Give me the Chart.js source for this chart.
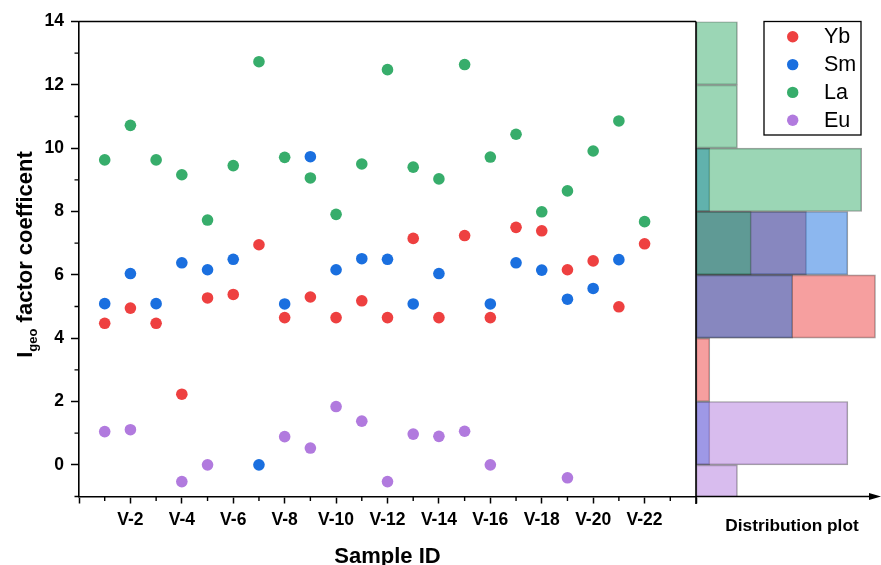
<!DOCTYPE html>
<html>
<head>
<meta charset="utf-8">
<script src="https://cdn.jsdelivr.net/npm/chart.js@4/dist/chart.umd.min.js"></script>
<style>
  html, body { margin: 0; padding: 0; background: #fff; }
  #wrap { position: relative; width: 881px; height: 565px; }
  #wrap canvas { position: absolute; left: 0; top: 0; }
</style>
</head>
<body>
<div id="wrap">
  <canvas id="main" width="881" height="565"></canvas>
  <canvas id="dist" width="881" height="565"></canvas>
</div>
<script>
// Sample IDs along the x axis (sample n sits at x = n)
const sampleIds = ['V-1','V-2','V-3','V-4','V-5','V-6','V-7','V-8','V-9','V-10','V-11',
                   'V-12','V-13','V-14','V-15','V-16','V-17','V-18','V-19','V-20','V-21','V-22'];

// Igeo values per element, one entry per sample (null = not reported)
const ybValues = [4.47, 4.95, 4.47, 2.23, 5.27, 5.38, 6.95, 4.65, 5.30, 4.65, 5.18,
                  4.65, 7.15, 4.65, 7.24, 4.65, 7.50, 7.39, 6.16, 6.44, 4.99, 6.98];
const smValues = [5.09, 6.04, 5.09, 6.38, 6.16, 6.49, 0.00, 5.08, 9.73, 6.16, 6.51,
                  6.49, 5.08, 6.04, null, 5.08, 6.38, 6.15, 5.23, 5.57, 6.48, null];
const laValues = [9.63, 10.72, 9.63, 9.16, 7.73, 9.45, 12.73, 9.71, 9.06, 7.91, 9.50,
                  12.48, 9.40, 9.03, 12.64, 9.72, 10.44, 7.99, 8.65, 9.91, 10.86, 7.68];
const euValues = [1.05, 1.11, null, -0.53, 0.00, null, null, 0.89, 0.53, 1.84, 1.38,
                  -0.53, 0.97, 0.90, 1.06, 0.00, null, null, -0.41, null, null, null];

// Axis tick values
const yTickLabels = [0, 2, 4, 6, 8, 10, 12, 14];
const xLabelledTicks = [2, 4, 6, 8, 10, 12, 14, 16, 18, 20, 22];

// Histogram bin edges for the distribution panel
const binEdges = [-2, 0, 2, 4, 6, 8, 10, 12, 14];

const FONT = "'Liberation Sans', Arial, Helvetica, sans-serif";

const series = [
  { name: 'Yb', values: ybValues, color: [238, 64, 64],   order: 3 },
  { name: 'Sm', values: smValues, color: [26, 111, 223],  order: 2 },
  { name: 'La', values: laValues, color: [55, 173, 107],  order: 1 },
  { name: 'Eu', values: euValues, color: [177, 122, 222], order: 0 }
];
const rgba = (c, a) => `rgba(${c[0]},${c[1]},${c[2]},${a})`;

function binCounts(values) {
  const counts = new Array(binEdges.length - 1).fill(0);
  values.forEach(v => {
    if (v === null) return;
    for (let k = 0; k < binEdges.length - 1; k++) {
      if (v >= binEdges[k] && v < binEdges[k + 1]) { counts[k]++; break; }
    }
  });
  return counts;
}
const binCenters = binEdges.slice(0, -1).map((e, k) => (e + binEdges[k + 1]) / 2);

const range = (a, b) => { const r = []; for (let v = a; v <= b; v++) r.push(v); return r; };

// ---------- Scatter panel decorations: frame top, minor ticks, axis titles ----------
const mainDecor = {
  id: 'mainDecor',
  afterDraw(chart) {
    const ctx = chart.ctx;
    const area = chart.chartArea;
    const xs = chart.scales.x, ys = chart.scales.y;
    ctx.save();
    ctx.strokeStyle = '#000';
    ctx.lineWidth = 1.6;
    ctx.beginPath();
    ctx.moveTo(area.left - 0.8, area.top);
    ctx.lineTo(area.right, area.top);
    ctx.stroke();

    // minor ticks
    ctx.lineWidth = 1.4;
    ctx.beginPath();
    range(-1, 13).filter(v => Math.abs(v) % 2 === 1).forEach(v => {
      const p = ys.getPixelForValue(v);
      ctx.moveTo(area.left - 4.5, p);
      ctx.lineTo(area.left, p);
    });
    range(1, 23).filter(v => v % 2 === 1).forEach(v => {
      const p = xs.getPixelForValue(v);
      ctx.moveTo(p, area.bottom);
      ctx.lineTo(p, area.bottom + 4.5);
    });
    ctx.stroke();

    // x title
    ctx.fillStyle = '#000';
    ctx.textAlign = 'center';
    ctx.textBaseline = 'alphabetic';
    ctx.font = `bold 22px ${FONT}`;
    ctx.fillText('Sample ID', (area.left + area.right) / 2, 563);

    // y title with subscript
    const big = `bold 22px ${FONT}`, small = `bold 13px ${FONT}`;
    ctx.font = big; const wI = ctx.measureText('I').width;
    const wRest = ctx.measureText(' factor coefficent').width;
    ctx.font = small; const wSub = ctx.measureText('geo').width;
    const total = wI + wSub + wRest;
    ctx.translate(31.5, 254.5);
    ctx.rotate(-Math.PI / 2);
    ctx.textAlign = 'left';
    let u = -total / 2;
    ctx.font = big; ctx.fillText('I', u, 0); u += wI;
    ctx.font = small; ctx.fillText('geo', u, 5); u += wSub;
    ctx.font = big; ctx.fillText(' factor coefficent', u, 0);
    ctx.restore();
  }
};

new Chart(document.getElementById('main'), {
  type: 'scatter',
  data: {
    datasets: series.map(s => ({
      label: s.name,
      data: s.values.map((v, i) => (v === null ? null : { x: i + 1, y: v })).filter(d => d !== null),
      backgroundColor: rgba(s.color, 1),
      borderWidth: 0,
      pointRadius: 5.8,
      pointHoverRadius: 5.8,
      order: s.order
    }))
  },
  options: {
    responsive: false,
    animation: false,
    devicePixelRatio: 1,
    events: [],
    layout: { padding: { left: 0, right: 185, top: 21.5, bottom: 0 } },
    plugins: { legend: { display: false }, tooltip: { enabled: false } },
    scales: {
      x: {
        type: 'linear', min: 0, max: 24,
        afterFit: s => { s.height = 68.5; },
        afterBuildTicks: s => { s.ticks = range(0, 24).map(v => ({ value: v })); },
        border: { display: true, color: '#000', width: 1.6 },
        grid: {
          drawOnChartArea: false, drawTicks: true, tickLength: 7, tickWidth: 1.5,
          tickColor: c => (c.tick && c.tick.value % 2 === 0 ? '#000' : 'rgba(0,0,0,0)')
        },
        ticks: {
          autoSkip: false, maxRotation: 0, padding: 6, color: '#000',
          font: { family: FONT, size: 17.5, weight: 'bold' },
          callback: v => (xLabelledTicks.includes(v) ? sampleIds[v - 1] : '')
        }
      },
      y: {
        type: 'linear', min: -1, max: 14,
        afterFit: s => { s.width = 79; },
        afterBuildTicks: s => { s.ticks = range(-1, 14).map(v => ({ value: v })); },
        border: { display: true, color: '#000', width: 1.6 },
        grid: {
          drawOnChartArea: false, drawTicks: true, tickLength: 8, tickWidth: 1.5,
          tickColor: c => (c.tick && yTickLabels.includes(c.tick.value) ? '#000' : 'rgba(0,0,0,0)')
        },
        ticks: {
          autoSkip: false, padding: 7, color: '#000',
          font: { family: FONT, size: 17.5, weight: 'bold' },
          callback: v => (yTickLabels.includes(v) ? String(v) : '')
        }
      }
    }
  },
  plugins: [mainDecor]
});

// ---------- Distribution panel decorations: axis line, arrow, label, legend ----------
const distDecor = {
  id: 'distDecor',
  afterDraw(chart) {
    const ctx = chart.ctx;
    const area = chart.chartArea;
    ctx.save();
    ctx.strokeStyle = '#000';
    ctx.fillStyle = '#000';
    ctx.lineWidth = 1.6;
    ctx.beginPath();
    ctx.moveTo(area.left, area.top);
    ctx.lineTo(area.left, area.bottom + 7.5);
    ctx.stroke();

    // count axis with arrow head
    ctx.lineWidth = 1.4;
    ctx.beginPath();
    ctx.moveTo(area.left, area.bottom);
    ctx.lineTo(872, area.bottom);
    ctx.stroke();
    ctx.beginPath();
    ctx.moveTo(869, area.bottom - 3.5);
    ctx.lineTo(881, area.bottom);
    ctx.lineTo(869, area.bottom + 3.5);
    ctx.closePath();
    ctx.fill();

    ctx.textAlign = 'center';
    ctx.textBaseline = 'alphabetic';
    ctx.font = `bold 17.3px ${FONT}`;
    ctx.fillText('Distribution plot', 792, 531);

    // legend
    const bx = 764, by = 21.5, bw = 97, bh = 113.5;
    ctx.fillStyle = '#fff';
    ctx.fillRect(bx, by, bw, bh);
    ctx.strokeStyle = '#000';
    ctx.lineWidth = 1.3;
    ctx.strokeRect(bx, by, bw, bh);
    ctx.textAlign = 'left';
    ctx.textBaseline = 'middle';
    ctx.font = `21.5px ${FONT}`;
    series.forEach((s, i) => {
      const cy = 36.8 + i * 27.8;
      ctx.fillStyle = rgba(s.color, 1);
      ctx.beginPath();
      ctx.arc(792.7, cy, 5.7, 0, Math.PI * 2);
      ctx.fill();
      ctx.fillStyle = '#000';
      ctx.fillText(s.name, 824, cy + 0.5);
    });
    ctx.restore();
  }
};

new Chart(document.getElementById('dist'), {
  type: 'bar',
  data: {
    datasets: series.map(s => {
      const counts = binCounts(s.values);
      return {
        label: s.name,
        data: binCenters.map((c, k) => ({ x: counts[k], y: c })).filter(d => d.x > 0),
        backgroundColor: rgba(s.color, 0.5),
        borderColor: 'rgba(45,45,45,0.45)',
        borderWidth: 1,
        borderSkipped: false,
        grouped: false,
        barPercentage: 1,
        categoryPercentage: 1,
        clip: 0,
        order: s.order
      };
    })
  },
  options: {
    indexAxis: 'y',
    responsive: false,
    animation: false,
    devicePixelRatio: 1,
    events: [],
    layout: { padding: { left: 696, right: 0, top: 21.5, bottom: 68.5 } },
    plugins: { legend: { display: false }, tooltip: { enabled: false } },
    scales: {
      x: { type: 'linear', min: 0, max: 13.4, display: false, stacked: false },
      y: {
        type: 'linear', min: -1, max: 14, display: false, offset: false,
        afterBuildTicks: s => { s.ticks = binEdges.slice(1).map(v => ({ value: v })); }
      }
    }
  },
  plugins: [distDecor]
});
</script>
</body>
</html>
